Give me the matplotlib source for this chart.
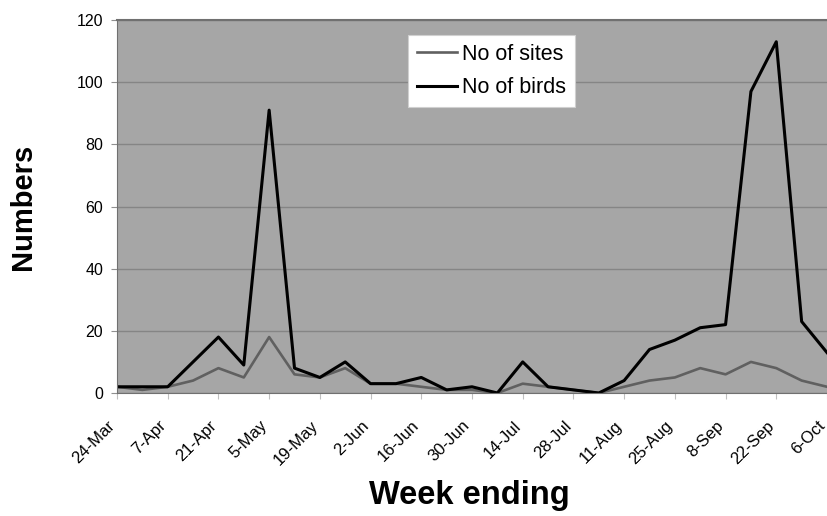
import matplotlib.pyplot as plt
import matplotlib.transforms as mtransforms
import numpy as np

plt.rcParams['font.family'] = ['Liberation Sans', 'DejaVu Sans']

# Weekly records, week ending 24-Mar to 6-Oct
weeks = ["24-Mar", "31-Mar", "7-Apr", "14-Apr", "21-Apr", "28-Apr", "5-May",
         "12-May", "19-May", "26-May", "2-Jun", "9-Jun", "16-Jun", "23-Jun",
         "30-Jun", "7-Jul", "14-Jul", "21-Jul", "28-Jul", "4-Aug", "11-Aug",
         "18-Aug", "25-Aug", "1-Sep", "8-Sep", "15-Sep", "22-Sep", "29-Sep",
         "6-Oct"]
no_of_sites = [2, 1, 2, 4, 8, 5, 18, 6, 5, 8, 3, 3, 2, 1, 1, 0, 3, 2, 1, 0,
               2, 4, 5, 8, 6, 10, 8, 4, 2]
no_of_birds = [2, 2, 2, 10, 18, 9, 91, 8, 5, 10, 3, 3, 5, 1, 2, 0, 10, 2, 1, 0,
               4, 14, 17, 21, 22, 97, 113, 23, 13]
y_ticks = [0, 20, 40, 60, 80, 100, 120]

x = np.arange(len(weeks))

fig = plt.figure(figsize=(8.27, 5.16), dpi=100)
ax = fig.add_axes([117 / 827, 1 - 393 / 516, 710 / 827, 373 / 516])
ax.set_facecolor('#a6a6a6')

ax.plot(x, no_of_sites, color='#606060', linewidth=1.9, label='No of sites')
ax.plot(x, no_of_birds, color='black', linewidth=2.2, label='No of birds')

ax.set_xlim(0, len(weeks) - 1)
ax.set_ylim(0, 120)
ax.set_yticks(y_ticks)
ax.yaxis.grid(True, color='#858585', linewidth=1.0)
ax.set_axisbelow(True)

ax.tick_params(axis='y', labelsize=11.5, length=4, color='#909090', pad=6)
ax.tick_params(axis='x', length=4, color='#c0c0c0', pad=4)

ax.set_xticks(x[::2])
ax.set_xticklabels(weeks[::2], rotation=45, ha='right', rotation_mode='anchor',
                   fontsize=12)
# shift the slanted labels a little down and left, as in the original
shift = mtransforms.ScaledTranslation(-7 / 72, -10 / 72, fig.dpi_scale_trans)
for lbl in ax.get_xticklabels():
    lbl.set_transform(lbl.get_transform() + shift)

for side in ['top', 'left', 'bottom']:
    ax.spines[side].set_color('#707070')
ax.spines['top'].set_linewidth(1.5)
ax.spines['right'].set_visible(False)

ax.set_ylabel('Numbers', fontsize=21, fontweight='bold')
ax.yaxis.set_label_coords(-0.113, 0.5)
ax.set_xlabel('Week ending', fontsize=23.5, fontweight='bold')
ax.xaxis.set_label_coords(0.497, -0.232)

leg = ax.legend(loc='upper left', bbox_to_anchor=(0.41, 0.96), borderaxespad=0,
                fontsize=15.5, frameon=True, fancybox=False, framealpha=1,
                handlelength=1.85, handletextpad=0.25, labelspacing=0.6,
                borderpad=0.4)
leg.get_frame().set_edgecolor('#d0d0d0')
leg.get_frame().set_linewidth(0.8)

fig.savefig('out.png', dpi=100)
